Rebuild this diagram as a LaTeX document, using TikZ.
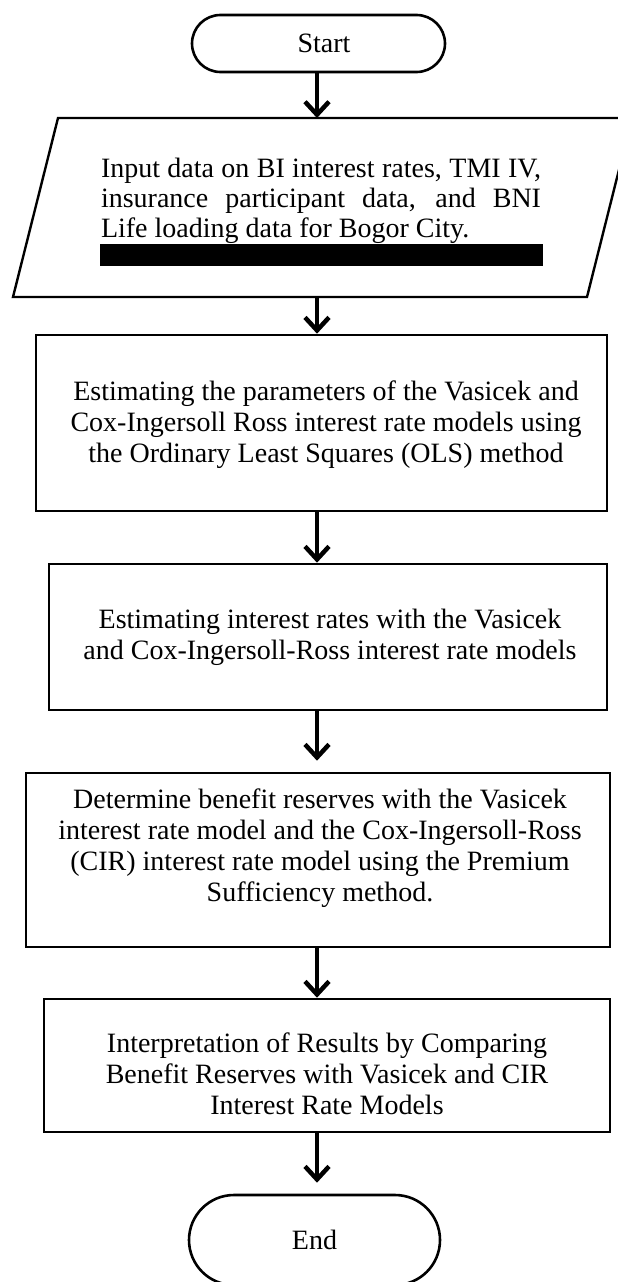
\documentclass[tikz,border=0pt]{standalone}
\usepackage{fontspec}
\setmainfont{Liberation Serif}
\usetikzlibrary{arrows.meta,shapes.misc,calc}
\begin{document}
\begin{tikzpicture}[x=1pt,y=-1pt,
  every node/.style={font=\fontsize{28}{31}\selectfont, inner sep=0pt},
  box/.style={draw, line width=2.6pt, rectangle},
  term/.style={draw, line width=2.6pt, rounded rectangle},
  txt/.style={align=center},
  arr/.style={line width=4.5pt, -{Straight Barb[length=13pt,width=24pt]}}]
\useasboundingbox (0,0) rectangle (618,1282);
\fill[white] (0,0) rectangle (618,1282);
\coordinate (ax) at (317,0);
% start
\node[term, minimum width=253pt, minimum height=57pt] (start) at (318.5,43.5) {\hspace{11pt}Start};
% input parallelogram
\coordinate (p1) at (58,118);
\coordinate (p2) at (632,118);
\coordinate (p3) at (587,297);
\coordinate (p4) at (13,297);
\draw[line width=2.4pt, line join=miter] (p1) -- (p2) -- (p3) -- (p4) -- cycle;
\node[text width=440pt, align=justify, font=\fontsize{28}{30}\selectfont] (in) at (321,201)
  {Input data on BI interest rates, TMI IV,\linebreak insurance participant data, and BNI\linebreak Life loading data for Bogor City.};
\node[fill=black, minimum width=443pt, minimum height=22pt] (bar) at (321.5,255) {};
% process boxes
\node[box, minimum width=571pt, minimum height=176pt] (r1) at (321.5,423) {};
\node[txt] (t1) at (326,425) {Estimating the parameters of the Vasicek and\\Cox-Ingersoll Ross interest rate models using\\the Ordinary Least Squares (OLS) method};
\node[box, minimum width=558pt, minimum height=146pt] (r2) at (328,637) {};
\node[txt] (t2) at (330,637) {Estimating interest rates with the Vasicek\\and Cox-Ingersoll-Ross interest rate models};
\node[box, minimum width=584pt, minimum height=174pt] (r3) at (318,860) {};
\node[txt] (t3) at (320,848.5) {Determine benefit reserves with the Vasicek\\interest rate model and the Cox-Ingersoll-Ross\\(CIR) interest rate model using the Premium\\Sufficiency method.};
\node[box, minimum width=566pt, minimum height=133pt] (r4) at (327,1065.5) {};
\node[txt] (t4) at (327,1074) {Interpretation of Results by Comparing\\Benefit Reserves with Vasicek and CIR\\Interest Rate Models};
% end
\node[term, minimum width=251pt, minimum height=90pt] (end) at (314.5,1240) {End};
% arrows
\draw[arr] (start.south -| ax) -- (p1 -| ax);
\draw[arr] (p4 -| ax) -- (r1.north -| ax);
\draw[arr] (r1.south -| ax) -- (r2.north -| ax);
\draw[arr, shorten >=11pt] (r2.south -| ax) -- (r3.north -| ax);
\draw[arr] (r3.south -| ax) -- (r4.north -| ax);
\draw[arr, shorten >=11pt] (r4.south -| ax) -- (end.north -| ax);
\end{tikzpicture}
\end{document}
